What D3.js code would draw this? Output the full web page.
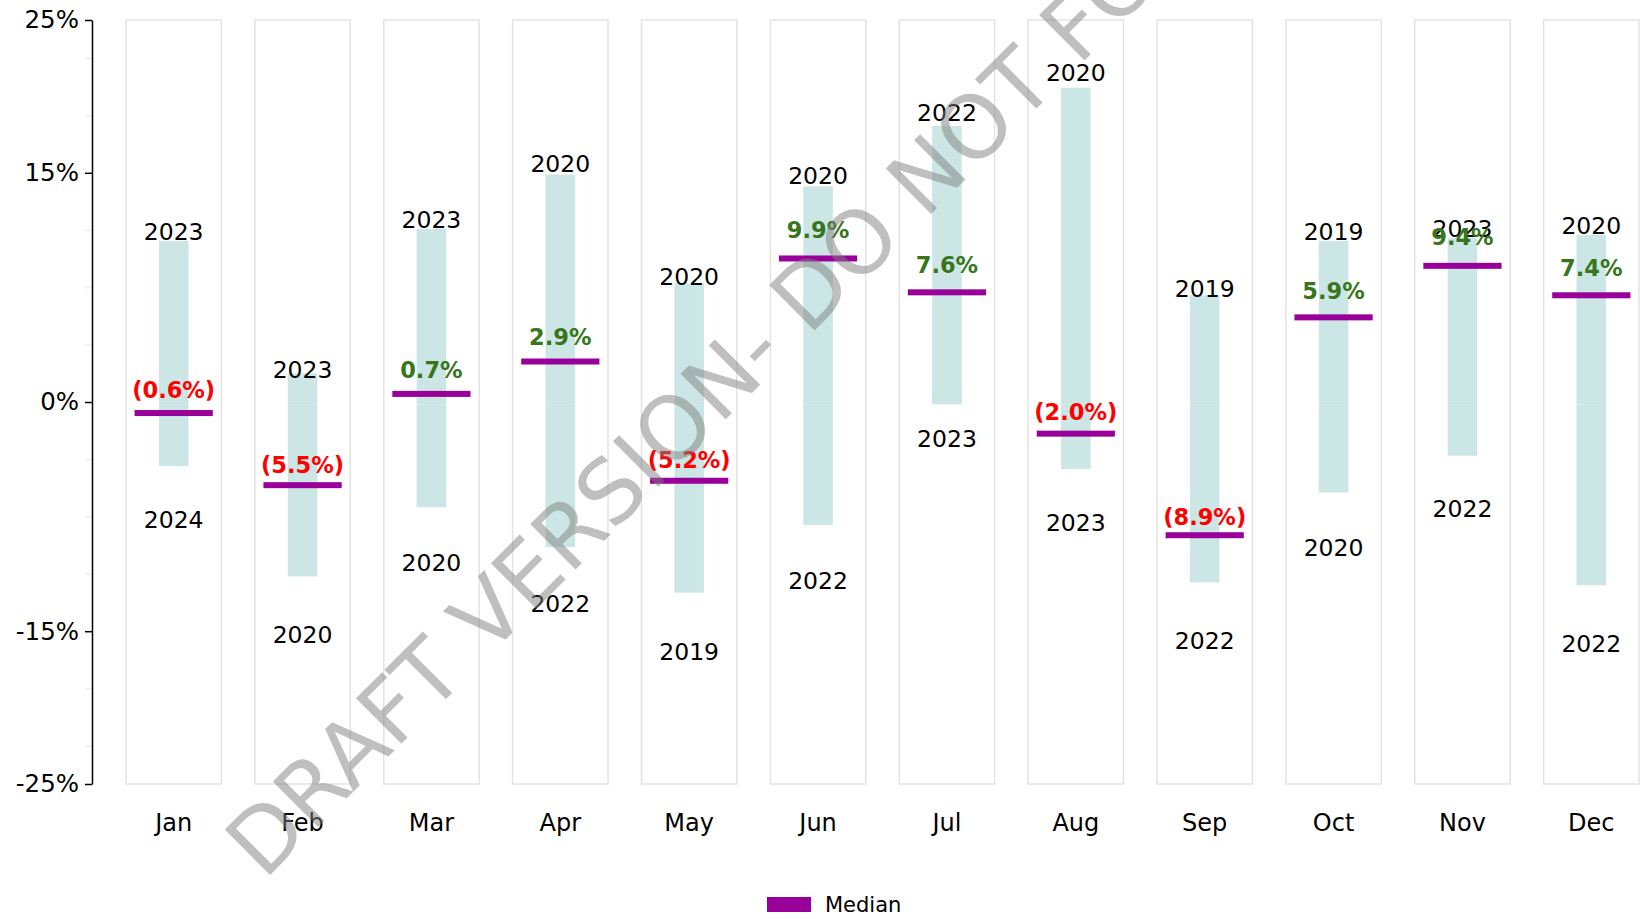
<!DOCTYPE html>
<html>
<head>
<meta charset="utf-8">
<script src="https://cdn.jsdelivr.net/npm/d3@7"></script>
<style>
  body { margin: 0; background: #fff; }
  svg { display: block; font-family: "DejaVu Sans", Verdana, sans-serif; }
</style>
</head>
<body>
<svg width="1641" height="919"></svg>
<script>
// monthly range of returns across years, with median
const months = ["Jan", "Feb", "Mar", "Apr", "May", "Jun", "Jul", "Aug", "Sep", "Oct", "Nov", "Dec"]
const highs = [11.1, 2.1, 11.9, 15.6, 8.2, 14.8, 18.9, 21.5, 7.4, 11.1, 11.3, 11.5]
const lows = [-4.2, -11.7, -7.0, -9.7, -12.8, -8.2, 1.1, -4.4, -12.1, -6.0, -3.5, -12.3]
const highYears = ["2023", "2023", "2023", "2020", "2020", "2020", "2022", "2020", "2019", "2019", "2023", "2020"]
const lowYears = ["2024", "2020", "2020", "2022", "2019", "2022", "2023", "2023", "2022", "2020", "2022", "2022"]
const medians = [-0.6, -5.5, 0.7, 2.9, -5.2, 9.9, 7.6, -2.0, -8.9, 5.9, 9.4, 7.4]
const majorTicks = [25, 15, 0, -15, -25]
const minorTicks = [22.5, 18.75, 11.25, 7.5, 3.75, -3.75, -7.5, -11.25, -18.75, -22.5]

const svg = d3.select("svg")

function fmt_median(v) {
  let s = Math.abs(v).toFixed(1) + "%"
  return v < 0 ? "(" + s + ")" : s
}

function make_scales() {
  return {
    x: d3.scaleBand().domain(months).range([126, 1639]).paddingInner(0.26).paddingOuter(0),
    // primary axis (labels)
    y: d3.scaleLinear().domain([-25, 25]).range([784, 20]),
    // hidden secondary axis (bars + median)
    y2: d3.scaleLinear().domain([-25.8, 26.1]).range([784, 20])
  }
}

function draw_axis(s) {
  let minor = svg.append("g")
    .attr("transform", "translate(92,0)")
    .call(d3.axisLeft(s.y).tickValues(minorTicks).tickSize(7).tickSizeOuter(0).tickFormat(""))
  minor.select(".domain").remove()
  minor.selectAll("line").attr("stroke", "#e6e6e6")

  let major = svg.append("g")
    .attr("transform", "translate(92,0)")
    .call(d3.axisLeft(s.y).tickValues(majorTicks).tickSize(7).tickSizeOuter(0).tickPadding(6)
      .tickFormat(d => d + "%"))
  major.select(".domain").attr("stroke", "#000").attr("stroke-width", 1.5)
  major.selectAll("line").attr("stroke", "#000").attr("stroke-width", 1.5)
  major.selectAll("text")
    .attr("font-size", 24.5)
    .attr("font-family", "DejaVu Sans, Verdana, sans-serif")
    .attr("fill", "#000")
}

function draw_columns(s) {
  let data = months.map((m, i) => ({
    month: m, high: highs[i], low: lows[i],
    hy: highYears[i], ly: lowYears[i], med: medians[i]
  }))
  let bw = s.x.bandwidth()
  let g = svg.append("g")

  g.selectAll("rect.panel").data(data).enter()
    .append("rect")
    .attr("class", "panel")
    .attr("x", d => s.x(d.month))
    .attr("y", s.y(25))
    .attr("width", bw)
    .attr("height", s.y(-25) - s.y(25))
    .attr("fill", "#fff")
    .attr("stroke", "#e3e3e3")
    .attr("stroke-width", 1.5)

  let barW = bw * 0.31
  // positive part from 0 to high
  g.selectAll("rect.up").data(data).enter()
    .append("rect")
    .attr("x", d => s.x(d.month) + bw / 2 - barW / 2)
    .attr("y", d => s.y2(d.high))
    .attr("width", barW)
    .attr("height", d => s.y2(0) - s.y2(d.high))
    .attr("fill", "#cce6e6")
  // part from 0 to low
  g.selectAll("rect.down").data(data).enter()
    .append("rect")
    .attr("x", d => s.x(d.month) + bw / 2 - barW / 2)
    .attr("y", d => Math.min(s.y2(0), s.y2(d.low)))
    .attr("width", barW)
    .attr("height", d => Math.abs(s.y2(d.low) - s.y2(0)))
    .attr("fill", "#cce6e6")

  let medW = bw * 0.82
  g.selectAll("rect.median").data(data).enter()
    .append("rect")
    .attr("x", d => s.x(d.month) + bw / 2 - medW / 2)
    .attr("y", d => s.y2(d.med) - 3)
    .attr("width", medW)
    .attr("height", 6)
    .attr("fill", "#990099")

  g.selectAll("text.hy").data(data).enter()
    .append("text")
    .attr("x", d => s.x(d.month) + bw / 2)
    .attr("y", d => s.y(d.high) + 8)
    .attr("text-anchor", "middle")
    .attr("font-size", 23.5)
    .attr("fill", "#000")
    .text(d => d.hy)

  g.selectAll("text.ly").data(data).enter()
    .append("text")
    .attr("x", d => s.x(d.month) + bw / 2)
    .attr("y", d => s.y(d.low) + 62)
    .attr("text-anchor", "middle")
    .attr("font-size", 23.5)
    .attr("fill", "#000")
    .text(d => d.ly)

  g.selectAll("text.med").data(data).enter()
    .append("text")
    .attr("x", d => s.x(d.month) + bw / 2)
    .attr("y", d => s.y(d.med) - 13)
    .attr("text-anchor", "middle")
    .attr("font-size", 22.5)
    .attr("font-weight", "bold")
    .attr("fill", d => d.med < 0 ? "#ff0000" : "#38761d")
    .text(d => fmt_median(d.med))

  g.selectAll("text.month").data(data).enter()
    .append("text")
    .attr("x", d => s.x(d.month) + bw / 2)
    .attr("y", 831)
    .attr("text-anchor", "middle")
    .attr("font-size", 24)
    .attr("fill", "#000")
    .text(d => d.month)
}

function draw_legend() {
  let lg = svg.append("g")
  lg.append("rect")
    .attr("x", 767).attr("y", 897).attr("width", 44).attr("height", 15)
    .attr("fill", "#990099")
  lg.append("text")
    .attr("x", 825).attr("y", 912)
    .attr("font-size", 21)
    .attr("fill", "#000")
    .text("Median")
}

function draw_watermark() {
  svg.append("text")
    .attr("transform", "translate(264,881) rotate(-45)")
    .attr("font-size", 88)
    .attr("fill", "#808080")
    .attr("fill-opacity", 0.5)
    .text("DRAFT VERSION- DO NOT FORWARD")
}

let scales = make_scales()
draw_columns(scales)
draw_axis(scales)
draw_legend()
draw_watermark()
</script>
</body>
</html>
